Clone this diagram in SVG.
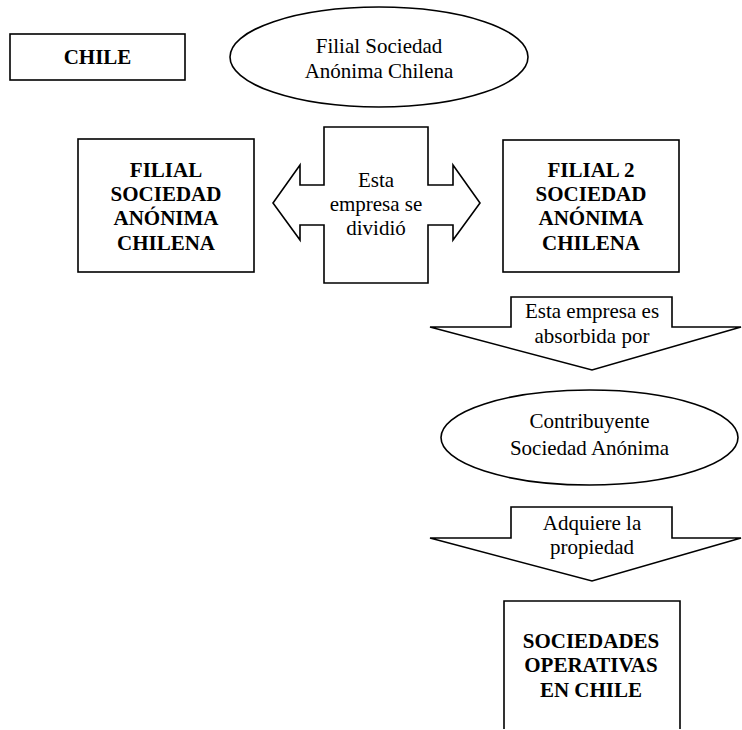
<svg xmlns="http://www.w3.org/2000/svg" width="742" height="730" viewBox="0 0 742 730">
<style>
.s{fill:#fff;stroke:#000;stroke-width:1.6;stroke-linejoin:miter}
text{font-family:'Liberation Serif','Times New Roman',serif;font-size:21px;fill:#000;text-anchor:middle}
.b{font-weight:bold}
</style>
<rect width="742" height="730" fill="#fff"/>
<g id="chile">
<rect class="s" x="10" y="34" width="175" height="46"/>
<text class="b" x="97.5" y="64">CHILE</text>
</g>
<g id="filial-ellipse">
<ellipse class="s" cx="379" cy="57" rx="149" ry="50"/>
<text x="379" y="53">Filial Sociedad</text>
<text x="379" y="78">Anónima Chilena</text>
</g>
<g id="filial-left">
<rect class="s" x="78" y="139" width="176" height="133"/>
<text class="b" x="166" y="177">FILIAL</text>
<text class="b" x="166" y="201">SOCIEDAD</text>
<text class="b" x="166" y="225">ANÓNIMA</text>
<text class="b" x="166" y="250">CHILENA</text>
</g>
<g id="filial-right">
<rect class="s" x="503" y="140" width="176" height="132"/>
<text class="b" x="591" y="177">FILIAL 2</text>
<text class="b" x="591" y="201">SOCIEDAD</text>
<text class="b" x="591" y="225">ANÓNIMA</text>
<text class="b" x="591" y="250">CHILENA</text>
</g>
<g id="connectors">
<g id="split-arrow">
<polygon class="s" points="273,203 300,165 300,185 324,185 324,127 428,127 428,185 453,185 453,165 480,203 453,240 453,225 428,225 428,283 324,283 324,225 300,225 300,240"/>
<text x="376" y="187">Esta</text>
<text x="376" y="211">empresa se</text>
<text x="376" y="235">dividió</text>
</g>
<g id="absorb-arrow">
<polygon class="s" points="511,297 672,297 672,327 741,327 592,370 430,327 511,327"/>
<text x="592" y="318">Esta empresa es</text>
<text x="592" y="343">absorbida por</text>
</g>
<g id="acquire-arrow">
<polygon class="s" points="511,507 672,507 672,538 741,538 592,581 430,538 511,538"/>
<text x="592" y="530">Adquiere la</text>
<text x="592" y="554">propiedad</text>
</g>
</g>
<g id="contribuyente">
<ellipse class="s" cx="589.5" cy="437.5" rx="148.5" ry="47.5"/>
<text x="589.5" y="428">Contribuyente</text>
<text x="589.5" y="455">Sociedad Anónima</text>
</g>
<g id="sociedades">
<path class="s" d="M504,729 V601 H680 V729" fill="none"/>
<text class="b" x="591" y="648">SOCIEDADES</text>
<text class="b" x="591" y="672">OPERATIVAS</text>
<text class="b" x="591" y="697">EN CHILE</text>
</g>
</svg>
